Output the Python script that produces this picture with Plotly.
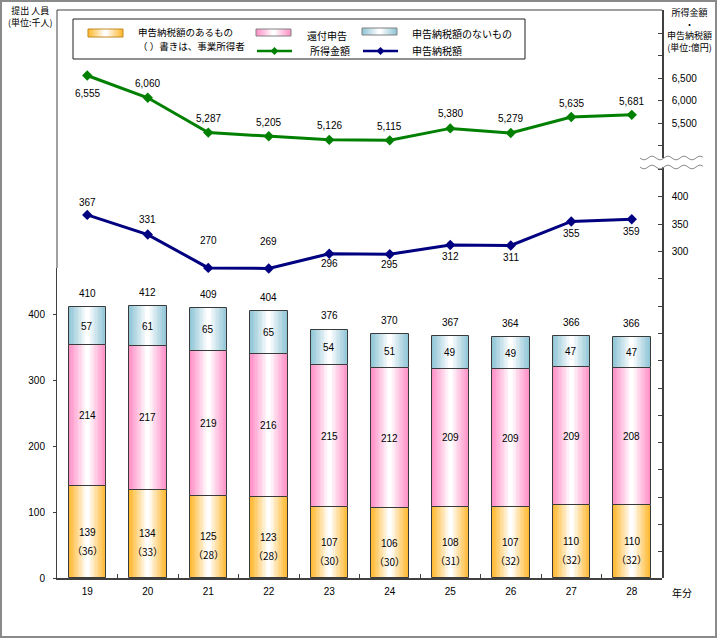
import math
import plotly.graph_objects as go

# ---------------- data ----------------
years = ['19', '20', '21', '22', '23', '24', '25', '26', '27', '28']
with_tax = [139, 134, 125, 123, 107, 106, 108, 107, 110, 110]          # 申告納税額のあるもの
with_tax_business = [36, 33, 28, 28, 30, 30, 31, 32, 32, 32]           # ( )書き 事業所得者
refund = [214, 217, 219, 216, 215, 212, 209, 209, 209, 208]            # 還付申告
no_tax = [57, 61, 65, 65, 54, 51, 49, 49, 47, 47]                      # 申告納税額のないもの
totals = [410, 412, 409, 404, 376, 370, 367, 364, 366, 366]            # 提出人員 合計
income = [6555, 6060, 5287, 5205, 5126, 5115, 5380, 5279, 5635, 5681]  # 所得金額
tax = [367, 331, 270, 269, 296, 295, 312, 311, 355, 359]               # 申告納税額

left_ticks = [0, 100, 200, 300, 400]
tax_ticks = list(range(-300, 451, 50))
tax_tick_labels = ['300', '350', '400']
income_ticks = list(range(5000, 8001, 500))
income_tick_labels = ['5,500', '6,000', '6,500']

# ---------------- style ----------------
W, H = 720, 640
L, R, T, B = 57, 662, 10, 578
FONT = "Liberation Sans, Noto Sans CJK JP, sans-serif"
JP = "Noto Sans CJK JP, sans-serif"
ORANGE = (255, 185, 50)
PINK = (255, 145, 200)
BLUE = (145, 198, 215)
GREEN = '#008000'
NAVY = '#000080'
BAR_W = 0.62
NLAYER = 14

income_label_shift = [-18, 14, 14, 14, 14, 14, 15, 14, 13, 13]
tax_label_shift = [12, 15, 27, 27, -10, -10, -12, -12, -12, -12]


def px(x):
    return (x - L) / (R - L)


def py(y):
    return (B - y) / (B - T)


def grad(edge, f):
    t = max(0.0, min(1.0, (f - 0.12) / 0.88))
    t = t ** 0.9
    r, g, b = [round(255 + (c - 255) * t) for c in edge]
    return f'rgb({r},{g},{b})'


fig = go.Figure()

# stacked gradient bars (layers of narrowing bars)
bases = [[0] * len(years),
         with_tax[:],
         [a + b for a, b in zip(with_tax, refund)]]
segments = [(with_tax, ORANGE), (refund, PINK), (no_tax, BLUE)]
for (vals, col), base in zip(segments, bases):
    for k in range(NLAYER):
        f = 1 - k / NLAYER
        fig.add_trace(go.Bar(x=years, y=vals, base=base, width=BAR_W * f,
                             marker=dict(color=grad(col, f), line=dict(width=0)),
                             hoverinfo='skip', showlegend=False, yaxis='y'))
    fig.add_trace(go.Bar(x=years, y=vals, base=base, width=BAR_W,
                         marker=dict(color='rgba(0,0,0,0)', line=dict(color='#3a3a3a', width=1)),
                         hoverinfo='skip', showlegend=False, yaxis='y'))

# lines
fig.add_trace(go.Scatter(x=years, y=tax, mode='lines+markers', yaxis='y2',
                         line=dict(color=NAVY, width=3),
                         marker=dict(symbol='diamond', size=8, color=NAVY),
                         showlegend=False, hoverinfo='skip'))
fig.add_trace(go.Scatter(x=years, y=income, mode='lines+markers', yaxis='y3',
                         line=dict(color=GREEN, width=3),
                         marker=dict(symbol='diamond', size=8, color=GREEN),
                         showlegend=False, hoverinfo='skip'))

ann = []
# bar / line labels (x given as category index)
for i, yr in enumerate(years):
    b0 = bases[0][i]
    ann.append(dict(x=i, y=b0 + with_tax[i] / 2, yref='y', text=str(with_tax[i]),
                    showarrow=False, font=dict(size=10)))
    ann.append(dict(x=i, y=b0 + with_tax[i] / 2, yref='y', text=f'（{with_tax_business[i]}）',
                    showarrow=False, yshift=-18, font=dict(size=10, family=JP)))
    ann.append(dict(x=i, y=bases[1][i] + refund[i] / 2, yref='y', text=str(refund[i]),
                    showarrow=False, font=dict(size=10)))
    ann.append(dict(x=i, y=bases[2][i] + no_tax[i] / 2, yref='y', text=str(no_tax[i]),
                    showarrow=False, font=dict(size=10)))
    ann.append(dict(x=i, y=bases[2][i] + no_tax[i], yref='y', text=str(totals[i]),
                    showarrow=False, yshift=14, font=dict(size=10)))
    ann.append(dict(x=i, y=income[i], yref='y3', text=f'{income[i]:,}',
                    showarrow=False, yshift=income_label_shift[i], font=dict(size=10)))
    ann.append(dict(x=i, y=tax[i], yref='y2', text=str(tax[i]),
                    showarrow=False, yshift=tax_label_shift[i], font=dict(size=10)))


def pann(x, y, text, size=10, xanchor='center', family=JP, color='black', align='center'):
    ann.append(dict(x=px(x), y=py(y), xref='paper', yref='paper', text=text,
                    showarrow=False, xanchor=xanchor, yanchor='middle', align=align,
                    font=dict(size=size, family=family, color=color)))


# axis titles
pann(30, 16.5, '提出 人員<br>(単位:千人)', size=9)
pann(689, 29.5, '所得金額<br>・<br>申告納税額<br>(単位:億円)', size=9)
pann(682, 592, '年分', size=10)

shapes = []
# outer frame
shapes.append(dict(type='rect', xref='paper', yref='paper', x0=px(1), x1=px(716), y0=py(1), y1=py(637),
                   line=dict(color='#8a8a8a', width=2), layer='below'))
# plot box: top and upper-left lines
shapes.append(dict(type='line', xref='paper', yref='paper', x0=0, x1=1, y0=1, y1=1,
                   line=dict(color='#404040', width=1)))
shapes.append(dict(type='line', xref='paper', yref='paper', x0=0, x1=0, y0=1, y1=py(268),
                   line=dict(color='#404040', width=1)))

# axis break waves
for y0 in (158, 167):
    pts = []
    xx = 640.0
    while xx <= 703:
        yy = y0 + 1.8 * math.sin(2 * math.pi * (xx - 640) / 16)
        pts.append(f'{px(xx):.5f},{py(yy):.5f}')
        xx += 1.0
    shapes.append(dict(type='path', xref='paper', yref='paper', path='M' + ' L'.join(pts),
                       line=dict(color='#8c8c8c', width=1)))

# legend
shapes.append(dict(type='rect', xref='paper', yref='paper', x0=px(73), x1=px(525), y0=py(19), y1=py(59),
                   line=dict(color='#202020', width=1), fillcolor='white'))


def swatch(x0, x1, y0, y1, edge, border):
    cx = (x0 + x1) / 2
    w = x1 - x0
    for k in range(NLAYER):
        f = 1 - k / NLAYER
        shapes.append(dict(type='rect', xref='paper', yref='paper',
                           x0=px(cx - w * f / 2), x1=px(cx + w * f / 2), y0=py(y0), y1=py(y1),
                           line=dict(width=0), fillcolor=grad(edge, f)))
    shapes.append(dict(type='rect', xref='paper', yref='paper', x0=px(x0), x1=px(x1), y0=py(y0), y1=py(y1),
                       line=dict(color=border, width=1)))


swatch(88, 123, 29, 37, ORANGE, '#c08a20')
swatch(256, 291, 29, 36, PINK, '#808080')
swatch(362, 397, 28, 35, BLUE, '#808080')


def legline(x0, x1, y, color):
    shapes.append(dict(type='line', xref='paper', yref='paper', x0=px(x0), x1=px(x1), y0=py(y), y1=py(y),
                       line=dict(color=color, width=2.5)))
    cx = (x0 + x1) / 2
    d = 4
    path = (f'M{px(cx - d)},{py(y)} L{px(cx)},{py(y - d)} L{px(cx + d)},{py(y)} '
            f'L{px(cx)},{py(y + d)} Z')
    shapes.append(dict(type='path', xref='paper', yref='paper', path=path,
                       fillcolor=color, line=dict(color=color, width=0)))


legline(257, 292, 51, GREEN)
legline(363, 398, 51, NAVY)

pann(136, 32, '申告納税額のあるもの', size=9.5, xanchor='left')
pann(136, 46, '（ ）書きは、事業所得者', size=9.5, xanchor='left')
pann(305, 35, '還付申告', xanchor='left')
pann(410, 33, '申告納税額のないもの', xanchor='left')
pann(308, 51, '所得金額', xanchor='left')
pann(410, 51, '申告納税額', xanchor='left')

fig.update_layout(
    width=W, height=H, autosize=False,
    margin=dict(l=L, r=W - R, t=T, b=H - B, pad=0),
    paper_bgcolor='white', plot_bgcolor='rgba(0,0,0,0)',
    font=dict(family=FONT, size=10, color='black'),
    barmode='overlay', bargap=0,
    showlegend=False,
    xaxis=dict(type='category', categoryorder='array', categoryarray=years,
               range=[-0.5, len(years) - 0.5], tickson='boundaries', ticks='inside', ticklen=4,
               tickcolor='#404040', showline=True, linecolor='#404040', linewidth=1.5,
               showgrid=False, ticklabelstandoff=3, tickfont=dict(size=10)),
    yaxis=dict(domain=[0, py(268)], range=[0, (B - 268) / 0.66], tickvals=left_ticks,
               ticks='outside', ticklen=3, tickcolor='#404040', showline=True, linecolor='#404040',
               linewidth=1, showgrid=False, zeroline=False, ticklabelstandoff=6,
               tickfont=dict(size=10)),
    yaxis2=dict(domain=[0, py(167)], anchor='x', side='right',
                range=[300 - (B - 251.5) / 0.546, 300 + (251.5 - 167) / 0.546],
                tickvals=tax_ticks,
                ticktext=[str(v) if str(v) in tax_tick_labels else '' for v in tax_ticks],
                ticks='inside', ticklen=4, tickcolor='#404040', showline=True, linecolor='#404040',
                linewidth=1.5, showgrid=False, zeroline=False, ticklabelstandoff=6,
                tickfont=dict(size=10)),
    yaxis3=dict(domain=[py(158), 1], anchor='x', side='right',
                range=[6000 - (158 - 100.5) / 0.045, 6000 + (100.5 - T) / 0.045],
                tickvals=income_ticks,
                ticktext=[f'{v:,}' if f'{v:,}' in income_tick_labels else '' for v in income_ticks],
                ticks='inside', ticklen=4, tickcolor='#404040', showline=True, linecolor='#404040',
                linewidth=1.5, showgrid=False, zeroline=False, ticklabelstandoff=6,
                tickfont=dict(size=10)),
    annotations=ann,
    shapes=shapes,
)

fig.write_html("out.html", config={'displayModeBar': False},
               post_script="document.body.style.margin='0px'; document.body.style.overflow='hidden';")
